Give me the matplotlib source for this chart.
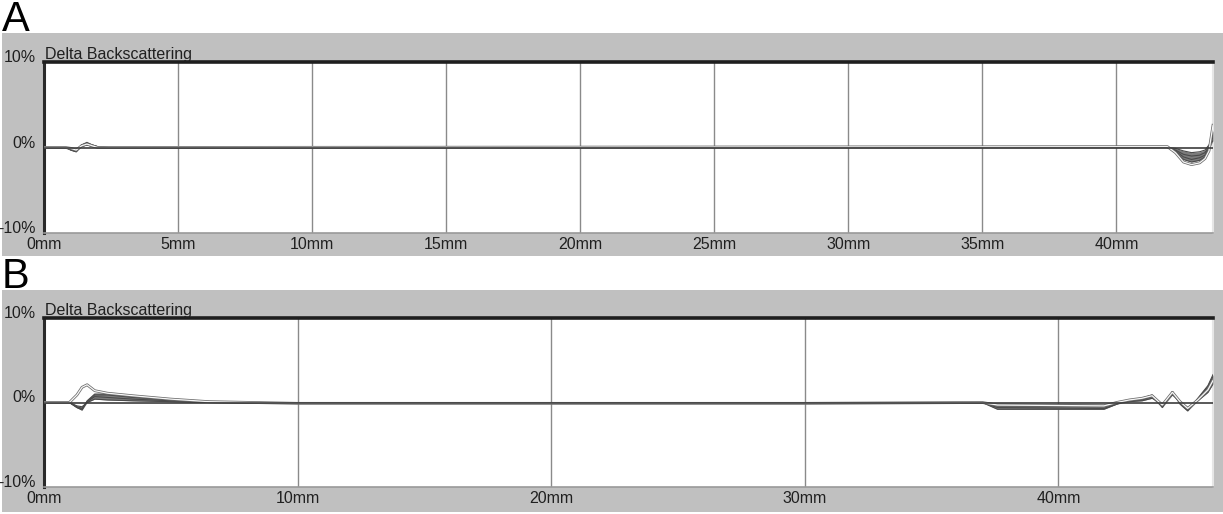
import numpy as np
import matplotlib
matplotlib.use('Agg')
import matplotlib.pyplot as plt
import matplotlib.patheffects as pe
from matplotlib.patches import Rectangle

plt.rcParams['font.family'] = ['Liberation Sans', 'DejaVu Sans']

# panel A: position (mm) and delta backscattering (%) per scan
a_x = [0.0, 0.8, 1.0, 1.2, 1.4, 1.6, 1.8, 2.0, 2.4,
       41.9, 42.2, 42.5, 42.8, 43.1, 43.3, 43.45, 43.6]
a_scans = [
    [0, 0, -0.1, -0.3, 0.1, 0.3, 0.1, 0.0, 0, 0, -0.1, -0.4, -0.6, -0.5, -0.3, 0.3, 0.8],
    [0, 0, -0.2, -0.4, 0.2, 0.4, 0.2, 0.1, 0, 0, -0.3, -0.8, -1.0, -0.9, -0.6, 0.2, 1.2],
    [0, 0, -0.3, -0.5, 0.3, 0.5, 0.3, 0.1, 0, 0, -0.4, -1.1, -1.4, -1.2, -0.9, 0.0, 1.6],
    [0, 0, -0.3, -0.5, 0.3, 0.6, 0.3, 0.1, 0, 0, -0.5, -1.4, -1.7, -1.5, -1.1, -0.2, 2.0],
]
a_first = [0, 0, -0.1, -0.3, 0.2, 0.4, 0.2, 0.0, 0, 0.1, -0.6, -1.7, -2.0, -1.8, -1.3, -0.4, 2.6]
a_ticks = [0, 5, 10, 15, 20, 25, 30, 35, 40]

# panel B
b_x = [0.0, 1.0, 1.3, 1.5, 1.7, 2.0, 2.5, 3.5, 5.0, 6.5, 10.0, 20.0, 30.0, 37.0,
       37.6, 41.8, 42.3, 42.8, 43.3, 43.7, 44.1, 44.5, 44.8, 45.1, 45.5, 45.9, 46.1]
b_scans = [
    [0, 0, -0.4, -0.5, 0.0, 0.4, 0.3, 0.2, 0.1, 0.0, -0.1, -0.1, -0.1, 0,
     -0.2, -0.3, 0.0, 0.1, 0.2, 0.5, -0.2, 0.9, 0.1, -0.6, 0.2, 1.2, 2.2],
    [0, 0, -0.5, -0.7, 0.1, 0.7, 0.6, 0.4, 0.2, 0.0, -0.1, -0.1, -0.1, 0,
     -0.4, -0.5, -0.1, 0.2, 0.3, 0.7, -0.4, 1.1, 0.0, -0.8, 0.3, 1.6, 2.7],
    [0, 0, -0.6, -0.8, 0.1, 0.9, 0.9, 0.6, 0.3, 0.1, -0.1, -0.1, -0.1, 0,
     -0.6, -0.7, -0.2, 0.3, 0.4, 0.8, -0.5, 1.3, -0.1, -0.9, 0.4, 1.9, 3.1],
    [0, 0, -0.6, -0.9, 0.2, 1.0, 1.0, 0.8, 0.4, 0.1, -0.1, -0.1, -0.1, 0,
     -0.8, -0.8, -0.2, 0.3, 0.5, 0.9, -0.6, 1.3, -0.2, -1.0, 0.5, 2.0, 3.3],
]
b_first = [0, 0, 0.9, 1.8, 2.1, 1.4, 1.1, 0.8, 0.4, 0.1, -0.1, -0.1, -0.1, 0,
           -0.3, -0.4, 0.0, 0.3, 0.5, 0.8, -0.3, 1.2, 0.1, -0.7, 0.3, 1.5, 2.6]
b_ticks = [0, 10, 20, 30, 40]

y_ticks = [-10, 0, 10]
y_labels = ['-10%', '0%', '10%']

W, H = 1223, 514
fig = plt.figure(figsize=(W / 100, H / 100), dpi=100, facecolor='white')


def px_rect(x0, y0, x1, y1):
    # pixel box (top-left origin) -> figure fraction [l, b, w, h]
    return [x0 / W, 1 - y1 / H, (x1 - x0) / W, (y1 - y0) / H]


def panel(letter, box, ax_box, x, scans, first, xmax, ticks):
    l, b, w, h = px_rect(*box)
    fig.patches.append(Rectangle((l, b), w, h, transform=fig.transFigure,
                                 facecolor='#c0c0c0', edgecolor='none', zorder=-10))
    fig.text(2 / W, 1 - (box[1] - 2) / H, letter, fontsize=30, va='baseline', ha='left')

    ax = fig.add_axes(px_rect(*ax_box))
    ax.set_facecolor('white')
    ax.set_xlim(0, xmax)
    ax.set_ylim(-10, 10)

    arr = np.array(scans)
    ax.fill_between(x, arr.min(axis=0), arr.max(axis=0), color='#7c7c7c', lw=0, zorder=3)
    for s in scans:
        ax.plot(x, s, color='#4a4a4a', lw=0.8, zorder=4)
    ax.plot(x, first, color='#f8f8f8', lw=0.9, zorder=5,
            path_effects=[pe.Stroke(linewidth=2.0, foreground='#6a6a6a'), pe.Normal()])
    # reference line on top so the flat stretches stay dark
    ax.axhline(0, color='#3c3c3c', lw=1.2, zorder=6)

    for t in ticks[1:]:
        ax.axvline(t, color='#8a8a8a', lw=1, zorder=1)

    ax.set_xticks(ticks)
    ax.set_xticklabels([f'{t}mm' for t in ticks], fontsize=11.5, color='#202020')
    ax.set_yticks(y_ticks)
    ax.set_yticklabels(y_labels, fontsize=11.5, color='#202020', va='baseline')
    ax.tick_params(length=0, pad=3)
    ax.tick_params(axis='y', pad=6)

    ax.spines['left'].set_color('#2a2a2a')
    ax.spines['left'].set_linewidth(2.2)
    ax.spines['top'].set_color('#1e1e1e')
    ax.spines['top'].set_linewidth(2.6)
    ax.spines['bottom'].set_color('#999999')
    ax.spines['bottom'].set_linewidth(1.2)
    ax.spines['right'].set_color('#e6e6e6')
    ax.spines['right'].set_linewidth(1.5)

    ax.text(0.001, 1.0, 'Delta Backscattering', transform=ax.transAxes,
            fontsize=11.5, color='#202020', va='bottom', ha='left')
    return ax


panel('A', (2, 33, 1223, 256), (44, 62, 1213, 233), a_x, a_scans, a_first, 43.6, a_ticks)
panel('B', (2, 290, 1223, 512), (44, 318, 1213, 487), b_x, b_scans, b_first, 46.1, b_ticks)

fig.savefig('out.png', dpi=100, facecolor='white')
